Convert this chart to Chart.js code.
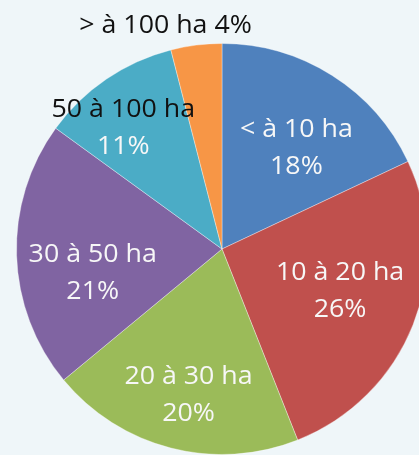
<!DOCTYPE html>
<html>
<head>
<meta charset="utf-8">
<script src="https://cdn.jsdelivr.net/npm/chart.js@4"></script>
<style>
  html, body { margin: 0; padding: 0; overflow: hidden; background: #eff6f9; }
  #wrap { position: absolute; left: 0; top: 0; width: 444px; height: 455px; }
</style>
</head>
<body>
<div id="wrap"><canvas id="pie" width="444" height="455"></canvas></div>
<script>
// farm size classes, clockwise from the top
const categories = ['< à 10 ha', '10 à 20 ha', '20 à 30 ha', '30 à 50 ha', '50 à 100 ha', '> à 100 ha'];
const shares = [18, 26, 20, 21, 11, 4];
const colors = ['#4f81bd', '#c0504d', '#9bbb59', '#8064a2', '#4bacc6', '#f79646'];

// where each label sits: fraction of radius, angle shift (deg), colour of line 1 / line 2
const labelPlace = [
    { r: 0.61, da: 4,    c1: '#f7f7f7', c2: '#f7f7f7' },
    { r: 0.61, da: -2,   c1: '#f7f7f7', c2: '#f7f7f7' },
    { r: 0.73, da: -1.5, c1: '#f7f7f7', c2: '#f7f7f7' },
    { r: 0.64, da: -8.7, c1: '#f7f7f7', c2: '#f7f7f7' },
    { r: 0.76, da: -5,   c1: '#111111', c2: '#f7f7f7' },
    { r: 1.12, da: -7,   c1: '#111111', c2: '#111111', oneLine: true }
];

const sliceLabels = {
    id: 'sliceLabels',
    afterDatasetsDraw(chart) {
        const ctx = chart.ctx;
        const arcs = chart.getDatasetMeta(0).data;
        ctx.save();
        ctx.font = '25px "Open Sans", sans-serif';
        ctx.textAlign = 'center';
        ctx.textBaseline = 'middle';
        arcs.forEach((arc, i) => {
            const p = labelPlace[i];
            const mid = (arc.startAngle + arc.endAngle) / 2 + p.da * Math.PI / 180;
            const x = arc.x + Math.cos(mid) * arc.outerRadius * p.r;
            const y = arc.y + Math.sin(mid) * arc.outerRadius * p.r;
            const pct = shares[i] + '%';
            const lines = p.oneLine ? [[categories[i] + ' ' + pct, p.c1]] : [[categories[i], p.c1], [pct, p.c2]];
            const step = 37;
            lines.forEach((ln, k) => {
                const dy = (k - (lines.length - 1) / 2) * step;
                ctx.save();
                ctx.translate(x, y + dy);
                ctx.scale(1.07, 1);
                ctx.fillStyle = ln[1];
                ctx.fillText(ln[0], 0, 0);
                ctx.restore();
            });
        });
        ctx.restore();
    }
};

new Chart(document.getElementById('pie'), {
    type: 'pie',
    data: {
        labels: categories,
        datasets: [{
            data: shares,
            backgroundColor: colors,
            borderColor: 'rgba(255,255,255,0.35)',
            borderWidth: 1
        }]
    },
    options: {
        responsive: false,
        animation: false,
        layout: { padding: { left: 16, right: 16, top: 43, bottom: 0 } },
        plugins: {
            legend: { display: false },
            tooltip: { enabled: false }
        }
    },
    plugins: [sliceLabels]
});
</script>
</body>
</html>
